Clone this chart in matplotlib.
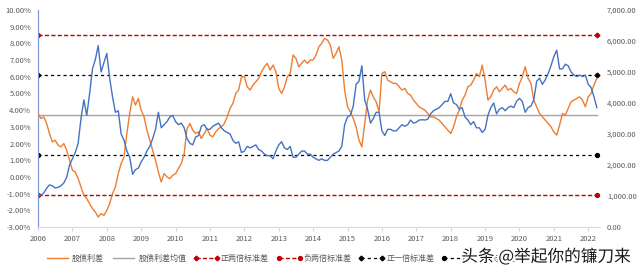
import numpy as np
import pandas as pd
import matplotlib
matplotlib.use("Agg")
import matplotlib.pyplot as plt
from matplotlib.lines import Line2D
import matplotlib.patheffects as pe

plt.rcParams['font.family'] = ['Noto Sans CJK SC', 'DejaVu Sans']

# monthly categories Jan 2006 .. Apr 2022
dates = pd.date_range("2006-01-01", "2022-04-01", freq="MS")

spread = [
    # 2006
    3.8, 3.5, 3.6, 3.2, 2.6, 2.1, 2.2, 1.9, 1.8, 2.0, 1.6, 1.0,
    # 2007
    0.4, 0.3, -0.1, -0.6, -1.1, -1.3, -1.6, -1.9, -2.1, -2.4, -2.2, -2.3,
    # 2008
    -2.0, -1.6, -1.0, -0.6, 0.2, 0.8, 1.2, 2.6, 3.8, 4.8, 4.3, 4.7,
    # 2009
    4.0, 3.6, 2.8, 2.2, 1.6, 1.0, 0.3, -0.3, 0.2, 0.0, -0.1, 0.1,
    # 2010
    0.2, 0.5, 0.8, 1.4, 2.9, 3.2, 2.8, 2.6, 2.7, 2.3, 2.6, 2.9,
    # 2011
    2.5, 2.4, 2.7, 2.9, 3.0, 3.2, 3.6, 4.1, 4.4, 5.0, 5.2, 6.0,
    # 2012
    6.0, 5.4, 5.2, 5.5, 5.7, 5.9, 6.3, 6.6, 6.8, 6.4, 6.7, 6.3,
    # 2013
    5.3, 5.0, 5.4, 6.0, 6.2, 7.3, 7.1, 6.6, 6.8, 7.0, 6.8, 7.0,
    # 2014
    7.0, 7.3, 7.8, 8.0, 8.3, 8.2, 7.9, 7.1, 7.4, 7.8, 7.0, 5.2,
    # 2015
    4.2, 3.9, 3.5, 3.0, 2.2, 1.8, 3.2, 4.6, 5.2, 4.8, 4.5, 3.9,
    # 2016
    6.2, 6.3, 5.8, 5.7, 5.6, 5.6, 5.4, 5.2, 5.3, 5.0, 4.9, 4.6,
    # 2017
    4.4, 4.2, 4.1, 4.0, 3.8, 3.6, 3.6, 3.5, 3.4, 3.2, 3.0, 2.8,
    # 2018
    2.6, 3.0, 3.6, 4.0, 4.6, 4.9, 5.4, 5.5, 5.8, 6.2, 6.0, 6.7,
    # 2019
    5.8, 4.6, 4.8, 5.2, 5.4, 5.1, 5.3, 5.5, 5.2, 5.3, 5.1, 5.0,
    # 2020
    5.6, 6.0, 6.6, 5.9, 5.6, 4.6, 4.2, 3.8, 3.6, 3.4, 3.2, 3.0,
    # 2021
    2.7, 2.5, 3.1, 3.8, 3.7, 4.1, 4.5, 4.6, 4.7, 4.8, 4.6, 4.2,
    # 2022
    4.8, 5.0, 5.5, 5.9,
]

csi300 = [
    # 2006
    1000, 1030, 1100, 1250, 1360, 1330, 1260, 1280, 1330, 1420, 1600, 2000,
    # 2007
    2200, 2400, 2700, 3500, 4100, 3600, 4300, 5100, 5400, 5850, 5000, 5300,
    # 2008
    5600, 4800, 4200, 3700, 3750, 3000, 2800, 2450, 2250, 1700, 1850, 1900,
    # 2009
    2100, 2250, 2450, 2600, 2850, 3150, 3700, 3200, 3300, 3400, 3550, 3600,
    # 2010
    3400, 3300, 3350, 3200, 2850, 2700, 2650, 2900, 2950, 3250, 3300, 3150,
    # 2011
    3150, 3250, 3300, 3350, 3200, 3100, 3050, 3000, 2800, 2700, 2750, 2400,
    # 2012
    2450, 2600, 2550, 2600, 2650, 2500, 2450, 2350, 2300, 2300, 2200, 2450,
    # 2013
    2650, 2750, 2550, 2500, 2600, 2250, 2250, 2350, 2450, 2450, 2350, 2350,
    # 2014
    2250, 2200, 2150, 2200, 2150, 2150, 2250, 2350, 2400, 2450, 2600, 3300,
    # 2015
    3550, 3600, 3900, 4600, 4700, 5200, 4100, 3800, 3350, 3500, 3700, 3700,
    # 2016
    3100, 2950, 3150, 3150, 3100, 3100, 3200, 3300, 3250, 3300, 3450, 3350,
    # 2017
    3380, 3450, 3460, 3450, 3480, 3650, 3750, 3800, 3850, 3950, 4050, 4050,
    # 2018
    4300, 4000, 3950, 3800, 3850, 3550, 3450, 3300, 3400, 3200, 3200, 3050,
    # 2019
    3150, 3600, 3850, 4000, 3650, 3800, 3850, 3750, 3850, 3900, 3850, 4050,
    # 2020
    4150, 4050, 3700, 3850, 3900, 4100, 4700, 4800, 4600, 4750, 4950, 5200,
    # 2021
    5500, 5700, 5100, 5100, 5250, 5200, 5000, 4900, 4850, 4900, 4850, 4900,
    # 2022
    4600, 4500, 4200, 3850,
]

mean_val = 3.71
plus2 = 8.53
minus2 = -1.11
plus1 = 6.12
minus1 = 1.30

labels = ["股债利差", "股债利差均值", "正两倍标准差", "负两倍标准差",
          "正一倍标准差", "负一倍标准差"]
years = list(range(2006, 2023))

t = np.array([d.year + (d.month - 1) / 12 for d in dates])

ORANGE = "#ED7D31"
BLUE = "#4472C4"
GRAY = "#A5A5A5"
RED = "#C00000"
TXT = "#595959"

fig = plt.figure(figsize=(6.4, 2.69), dpi=100)
ax = fig.add_axes([0.0594, 0.156, 0.878, 0.807])
ax2 = ax.twinx()

ax.plot(t, spread, color=ORANGE, lw=1.0, zorder=3)
ax.plot([t[0], t[-1]], [mean_val, mean_val], color=GRAY, lw=1.0, zorder=2)
ends = [t[0], t[-1]]
ax.plot(ends, [plus2] * 2, color=RED, lw=1.0, ls=(0, (3, 1.6)), marker="D", ms=2.4, zorder=2)
ax.plot(ends, [minus2] * 2, color=RED, lw=1.0, ls=(0, (3, 1.6)), marker="o", ms=2.8, zorder=2)
ax.plot(ends, [plus1] * 2, color="black", lw=0.9, ls=(0, (2.5, 2.5)), marker="D", ms=2.4, zorder=2)
ax.plot(ends, [minus1] * 2, color="black", lw=0.9, ls=(0, (2.5, 2.5)), marker="o", ms=2.8, zorder=2)

ax2.plot(t, csi300, color=BLUE, lw=1.0, zorder=3)

ax.set_xlim(2006, 2022.34)
ax.set_ylim(-3, 10)
ax.set_yticks(np.arange(-3, 11, 1))
ax.set_yticklabels([f"{v:.2f}%" for v in np.arange(-3, 11, 1)])
ax2.set_ylim(0, 7000)
ax2.set_yticks(np.arange(0, 7001, 1000))
ax2.set_yticklabels([f"{v:,.2f}" for v in np.arange(0, 7001, 1000)])
ax.set_xticks(years)
ax.set_xticklabels([str(y) for y in years])

for a in (ax, ax2):
    for s in a.spines.values():
        s.set_visible(False)
ax.spines["left"].set_visible(True)
ax.spines["left"].set_color("#7F9BD0")
ax.spines["left"].set_linewidth(0.9)
ax.spines["bottom"].set_visible(True)
ax.spines["bottom"].set_color("#D9D9D9")
ax.spines["bottom"].set_linewidth(0.8)

ax.tick_params(axis="y", length=0, labelsize=5.5, labelcolor=TXT, pad=5)
ax2.tick_params(axis="y", length=0, labelsize=5.5, labelcolor=TXT, pad=5)
ax.tick_params(axis="x", length=3, color="#D9D9D9", labelsize=5.5, labelcolor=TXT, pad=3)

handles = [
    Line2D([], [], color=ORANGE, lw=1.0),
    Line2D([], [], color=GRAY, lw=1.0),
    Line2D([], [], color=RED, lw=1.0, ls=(0, (3, 1.6)), marker="D", ms=2.4),
    Line2D([], [], color=RED, lw=1.0, ls=(0, (3, 1.6)), marker="o", ms=2.8),
    Line2D([], [], color="black", lw=0.9, ls=(0, (2.5, 2.5)), marker="D", ms=2.4),
    Line2D([], [], color="black", lw=0.9, ls=(0, (2.5, 2.5)), marker="o", ms=2.8),
]
leg = fig.legend(handles, labels, loc="center left", bbox_to_anchor=(0.058, 0.04),
                 ncol=6, frameon=False, fontsize=5.8, handlelength=3.2,
                 columnspacing=0.9, handletextpad=0.2, numpoints=2)
for txt in leg.get_texts():
    txt.set_color(TXT)

fig.text(0.985, 0.045, "头条 @举起你的镰刀来", ha="right", va="center",
         fontsize=12, color="#1a1a1a", zorder=10,
         path_effects=[pe.withStroke(linewidth=3, foreground="white")])

fig.savefig("out.png", dpi=100)
